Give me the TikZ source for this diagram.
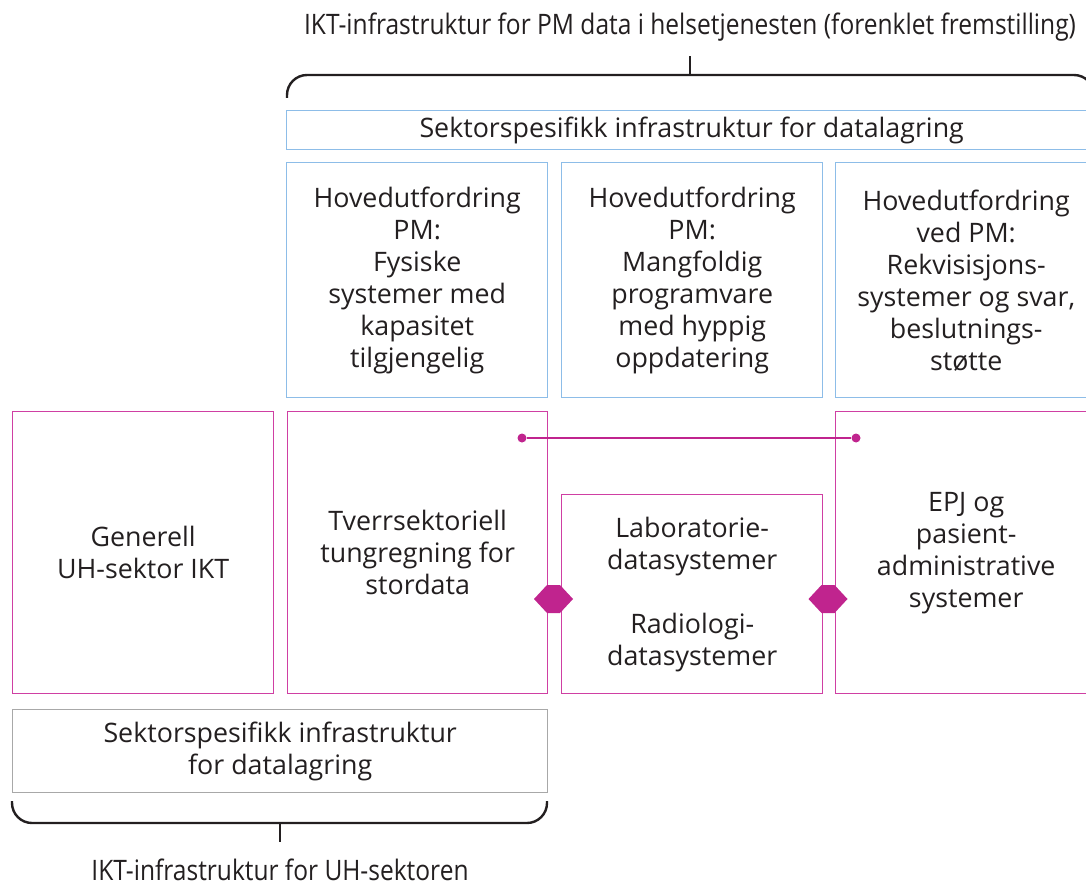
\documentclass[tikz,border=0pt]{standalone}
\usepackage{fontspec}
\setmainfont{Open Sans}
\newfontfamily\condfont{Open Sans}[FakeStretch=0.87]
\usetikzlibrary{positioning, calc}

\definecolor{pmblue}{HTML}{8DBDE8}
\definecolor{uhpink}{HTML}{CF3FA3}
\definecolor{hexpink}{HTML}{C0248E}
\definecolor{boxgrey}{HTML}{A8A8A8}
\definecolor{txtgrey}{HTML}{231F20}

\begin{document}
\begin{tikzpicture}[
    x=1pt, y=-1pt,
    txt/.style={font=\fontsize{26.8}{32}\selectfont, text=txtgrey, align=center}, % tekst i boksene
    box/.style={txt, anchor=north west, inner sep=0pt, line width=1.4pt},
    bluebox/.style={box, draw=pmblue},  % PM-bokser (blå)
    pinkbox/.style={box, draw=uhpink},  % UH-bokser (rosa)
    greybox/.style={box, draw=boxgrey}, % lagring UH (grå)
    brace/.style={line width=2.4pt, txtgrey, rounded corners=20pt},
    tittel/.style={font=\condfont\fontsize{28.2}{32}\selectfont, text=txtgrey, anchor=base, inner sep=0pt},
    link/.style={line width=2.8pt, hexpink},
    dot/.style={circle, fill=hexpink, inner sep=0pt, minimum size=9pt}
]
    \clip (0,0) rectangle (1086,888);

    % titler
    \node[tittel] (pmtittel) at (690,35) {IKT-infrastruktur for PM data i helsetjenesten (forenklet fremstilling)};
    \node[tittel] (uhtittel) at (280,880) {IKT-infrastruktur for UH-sektoren};

    % klammer
    \draw[brace] (287,98) -- (287,75) -- (1094,75) -- (1094,98);
    \coordinate (pmklamme) at (690,75);
    \draw[line width=2.4pt, txtgrey] (pmklamme) -- ++(0,-19);
    \draw[brace] (12,801) -- (12,823) -- (547,823) -- (547,801);
    \coordinate (uhklamme) at (280,823);
    \draw[line width=2.4pt, txtgrey] (uhklamme) -- ++(0,19);

    % PM: lagring og hovedutfordringer
    \node[bluebox, minimum width=810pt, minimum height=39pt] (pmlager) at (286,110)
        {Sektorspesifikk infrastruktur for datalagring};
    \node[bluebox, minimum width=261pt, minimum height=235pt] (utf1) at (286,162)
        {Hovedutfordring\\PM:\\Fysiske\\systemer med\\kapasitet\\tilgjengelig};
    \node[bluebox, minimum width=261pt, minimum height=235pt] (utf2) at (561,162)
        {Hovedutfordring\\PM:\\Mangfoldig\\programvare\\med hyppig\\oppdatering};
    \node[bluebox, minimum width=261pt, minimum height=235pt] (utf3) at (835,162)
        {Hovedutfordring\\ved PM:\\Rekvisisjons-\\systemer og svar,\\beslutnings-\\støtte};

    % UH og helse: systemer
    \node[pinkbox, minimum width=261pt, minimum height=282pt] (generell) at (12,411)
        {Generell\\UH-sektor IKT};
    \node[pinkbox, minimum width=260pt, minimum height=282pt] (tungregning) at (287,411)
        {Tverrsektoriell\\tungregning for\\stordata};
    \node[pinkbox, minimum width=261pt, minimum height=199pt] (labrad) at (561,494)
        {Laboratorie-\\datasystemer\\[32pt]Radiologi-\\datasystemer};
    \node[pinkbox, minimum width=261pt, minimum height=282pt] (epj) at (835,411)
        {EPJ og\\pasient-\\administrative\\systemer};

    % UH: lagring
    \node[greybox, minimum width=535pt, minimum height=83pt] (uhlager) at (12,709)
        {Sektorspesifikk infrastruktur\\for datalagring};

    % kobling tungregning -- EPJ
    \node[dot] (dotv) at (522,438) {};
    \node[dot] (doth) at (856,438) {};
    \draw[link] (dotv) -- (doth);

    % sekskanter mellom boksene
    \foreach \hx/\navn in {553.5/hexv, 828/hexh} {
        \coordinate (\navn) at (\hx,599);
        \fill[hexpink] ($(\navn)+(-19.5,0)$) -- ++(13,-14) -- ++(13,0) -- ++(13,14)
            -- ++(-13,14) -- ++(-13,0) -- cycle;
    }
\end{tikzpicture}
\end{document}
